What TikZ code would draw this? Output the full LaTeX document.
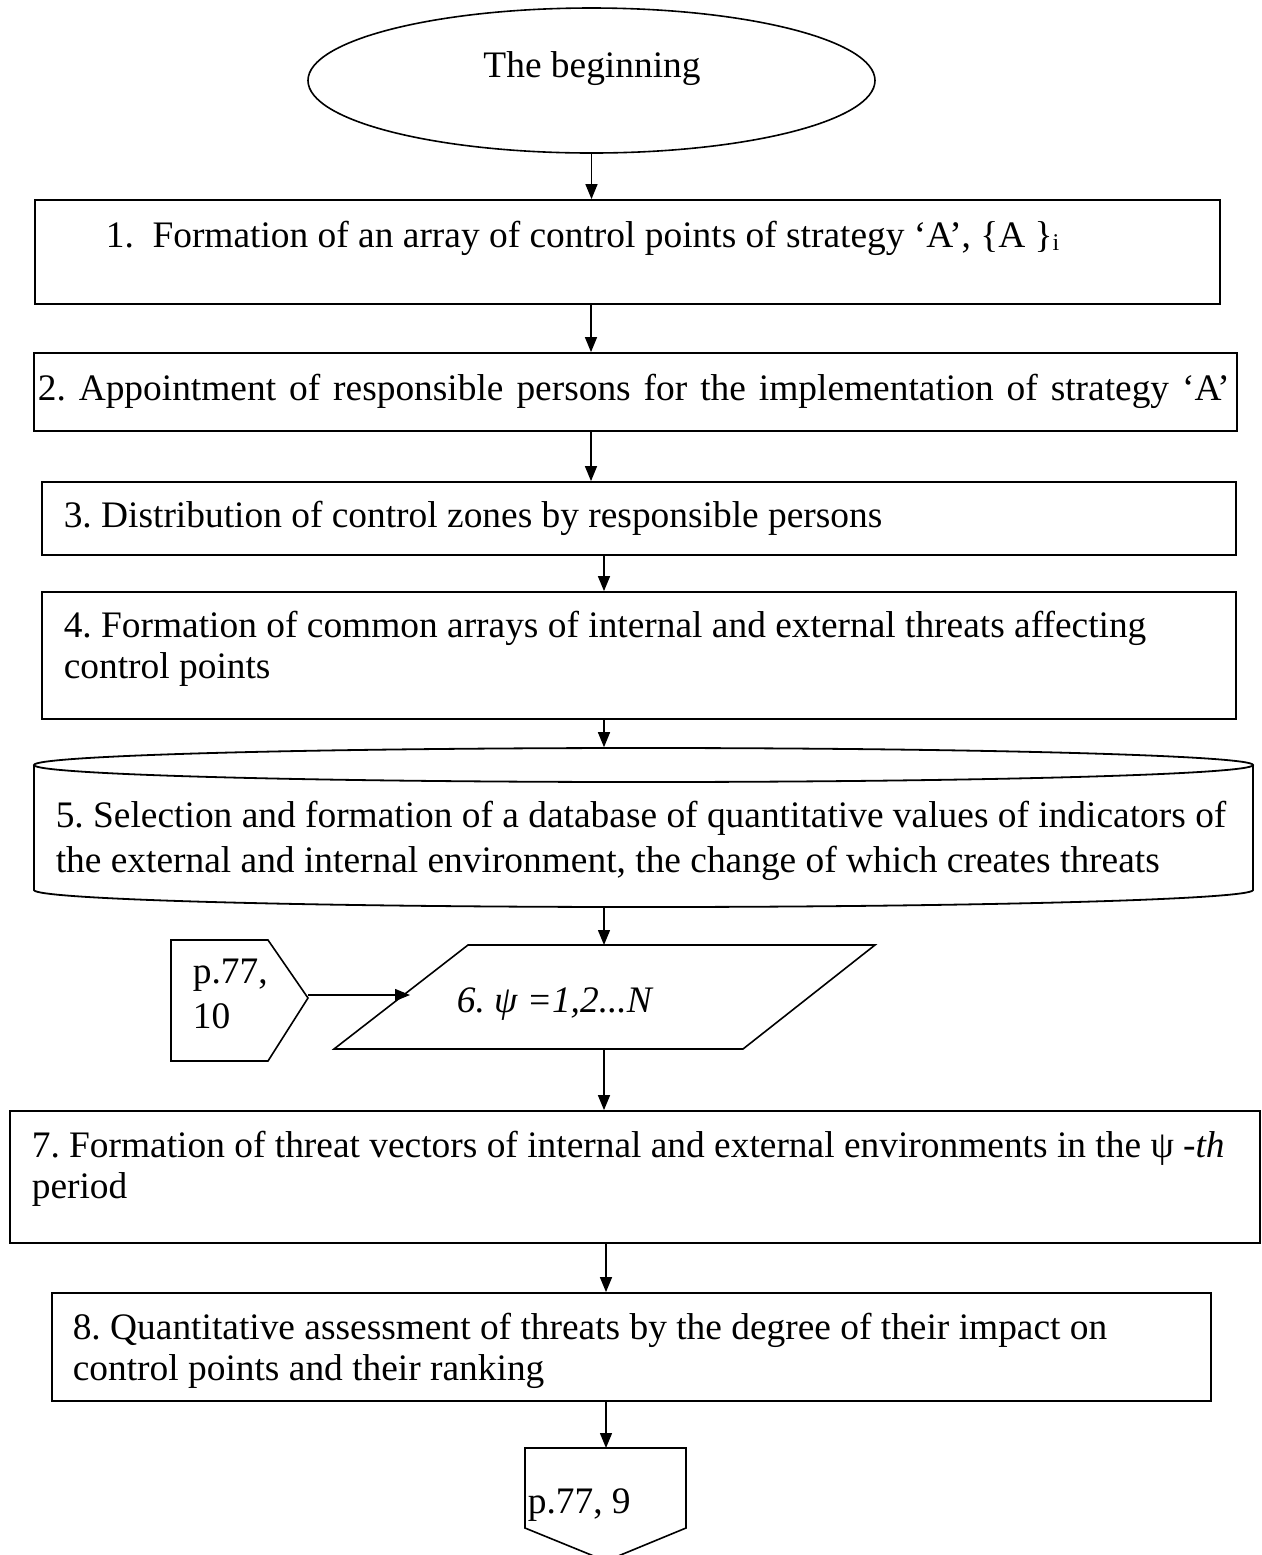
\documentclass[tikz,border=0pt]{standalone}
\usepackage{fontspec}
\setmainfont{Liberation Serif}
\usetikzlibrary{arrows.meta,shapes.geometric}
\frenchspacing
\begin{document}
\begin{tikzpicture}[x=0.5pt,y=-0.5pt,
  line width=0.8pt,
  shapebox/.style={draw, rectangle, inner sep=0pt, line width=0.9pt},
  txt/.style={anchor=base west, inner sep=0pt, font=\fontsize{18.7}{22}\selectfont},
  arr/.style={line width=0.7pt, -{Triangle[length=7.5pt,width=6pt]}}]
\useasboundingbox (0,0) rectangle (1262,1555);
\fill[white] (0,0) rectangle (1262,1555);

% start
\node[draw, ellipse, line width=0.8pt, minimum width=283.5pt, minimum height=72.5pt, inner sep=0pt] (start) at (591.5,80.5) {};
\node[txt, anchor=base] (starttxt) at (592,77) {The beginning};

% boxes
\node[shapebox, minimum width=592.5pt, minimum height=52pt] (b1) at (627.5,252) {};
\node[shapebox, minimum width=601.5pt, minimum height=39pt] (b2) at (635.5,392) {};
\node[shapebox, minimum width=597pt, minimum height=36.5pt] (b3) at (639,518.5) {};
\node[shapebox, minimum width=597pt, minimum height=63.5pt] (b4) at (639,655.5) {};
\node[inner sep=0pt, minimum width=609.5pt, minimum height=79.5pt] (c5) at (643.5,827.5) {};
\node[shapebox, minimum width=625pt, minimum height=66pt] (b7) at (635,1177) {};
\node[shapebox, minimum width=579.5pt, minimum height=54pt] (b8) at (631.5,1347) {};

% cylinder 5
\draw[line width=0.9pt] (643.5,765) ellipse [x radius=609.5, y radius=17];
\draw[line width=0.9pt] (34,765) -- (34,890) arc[start angle=180, end angle=0, x radius=609.5, y radius=17] -- (1253,765);

% parallelogram 6
\draw[line width=0.8pt] (468,945) -- (875,945) -- (743,1049) -- (334,1049) -- cycle;
\coordinate (p6top) at (604,945);
\coordinate (p6bot) at (604,1049);
\coordinate (p6left) at (410,995);

% off-page connector p.77, 10
\draw[line width=0.8pt] (171,940) -- (268,940) -- (308,998) -- (268,1061) -- (171,1061) -- cycle;
\coordinate (k10out) at (308,995);

% off-page connector p.77, 9
\draw[line width=0.8pt] (525,1448) -- (686,1448) -- (686,1528) -- (606,1561) -- (525,1528) -- cycle;
\coordinate (k9top) at (606,1448);

% texts
\node[txt] (t1) at (105,247) {1.\hspace{0.5em}Formation of an array of control points of strategy ‘A’, \{A \}\raisebox{-1.5pt}{\fontsize{12}{12}\selectfont i}};
\node[txt] (t2) at (37,400) {\hbox to 596pt{2. Appointment of responsible persons for the implementation of strategy ‘A’}};
\node[txt] (t3) at (63,527) {3. Distribution of control zones by responsible persons};
\node[txt] (t4a) at (63,637) {4. Formation of common arrays of internal and external threats affecting};
\node[txt] (t4b) at (63,678) {control points};
\node[txt] (t5a) at (55,827) {5. Selection and formation of a database of quantitative values of indicators of};
\node[txt] (t5b) at (55,872) {the external and internal environment, the change of which creates threats};
\node[txt] (t6) at (456,1012) {\itshape 6. ψ =1,2...N};
\node[txt] (k10a) at (192,983) {p.77,};
\node[txt] (k10b) at (192,1028) {10};
\node[txt] (t7a) at (31,1157) {7. Formation of threat vectors of internal and external environments in the ψ \textit{-th}};
\node[txt] (t7b) at (31,1198) {period};
\node[txt] (t8a) at (72,1339) {8. Quantitative assessment of threats by the degree of their impact on};
\node[txt] (t8b) at (72,1380) {control points and their ranking};
\node[txt] (k9txt) at (527,1513) {p.77, 9};

% connectors
\draw[arr] (start.south) -- (start.south |- b1.north);
\draw[arr] (b1.south -| 591,0) -- (b2.north -| 591,0);
\draw[arr] (b2.south -| 591,0) -- (b3.north -| 591,0);
\draw[arr] (b3.south -| 604,0) -- (b4.north -| 604,0);
\draw[arr] (b4.south -| 604,0) -- (c5.north -| 604,0);
\draw[arr] (c5.south -| 604,0) -- (p6top);
\draw[arr] (k10out) -- (p6left);
\draw[arr] (p6bot) -- (b7.north -| 604,0);
\draw[arr] (b7.south -| 606,0) -- (b8.north -| 606,0);
\draw[arr] (b8.south -| 606,0) -- (k9top);
\end{tikzpicture}
\end{document}
